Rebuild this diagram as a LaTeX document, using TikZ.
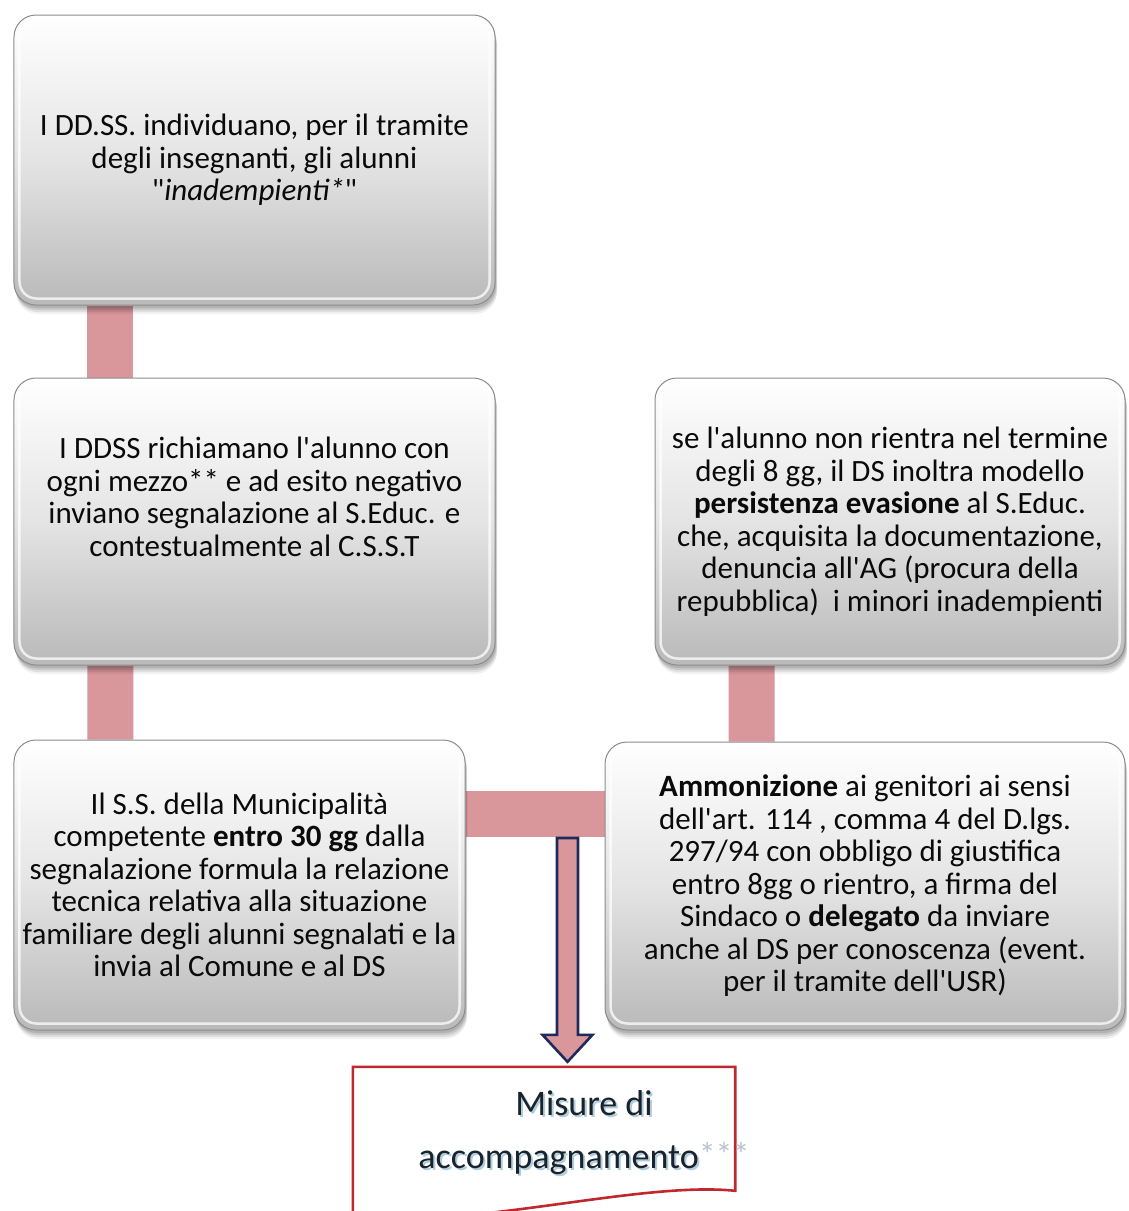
\documentclass[tikz,border=0pt]{standalone}
\usepackage{fontspec}
\setmainfont{Carlito}[Ligatures=TeXOff]
\usetikzlibrary{calc}
\definecolor{barpink}{RGB}{217,150,155}
\definecolor{navy}{RGB}{31,42,90}
\definecolor{docred}{RGB}{192,40,45}
\definecolor{boxbot}{RGB}{185,185,185}
\definecolor{boxmid}{RGB}{228,228,228}
\definecolor{boxrim}{RGB}{140,140,140}
\definecolor{txt}{RGB}{10,10,10}
\definecolor{doctxt}{RGB}{25,35,45}
\definecolor{glow}{RGB}{110,165,190}
\definecolor{starcol}{RGB}{185,195,210}
\pgfdeclarelayer{background}
\pgfsetlayers{background,main}
\tikzset{
  box/.style={rectangle, rounded corners=22bp, draw=boxrim, line width=1bp,
    top color=white, bottom color=boxbot, middle color=boxmid,
    text=txt, align=center, inner sep=0pt,
    font=\fontsize{31bp}{32.5bp}\selectfont,
    preaction={fill=black, opacity=0.10, transform canvas={xshift=1bp, yshift=-3bp}},
    preaction={fill=black, opacity=0.10, transform canvas={xshift=1.5bp, yshift=-5bp}},
    preaction={fill=black, opacity=0.08, transform canvas={xshift=2bp, yshift=-7bp}},
    preaction={fill=black, opacity=0.05, transform canvas={xshift=2bp, yshift=-9bp}}},
  bevel/.style={white, line width=2.5bp, opacity=0.75, rounded corners=17bp},
  bar/.style={barpink, line width=46bp},
  arrowshape/.style={draw=navy, line width=2.6bp, fill=barpink, line join=miter},
  docshape/.style={draw=docred, line width=2.6bp, fill=white},
  doctext/.style={align=center, font=\fontsize{36bp}{53bp}\selectfont, inner sep=0pt},
}
\newcommand{\flowstars}[1]{\raisebox{2bp}{\fontsize{34bp}{34bp}\selectfont\color{#1}***}}
\begin{document}
\begin{tikzpicture}[x=1bp,y=-1bp]
\useasboundingbox (0,0) rectangle (1129,1211);
\begin{pgfonlayer}{background}
\fill[white] (0,0) rectangle (1129,1211);
\end{pgfonlayer}

\node[box, minimum width=481bp, minimum height=290bp] (b1) at (254.5,160)
  {I DD.SS. individuano, per il tramite\\degli insegnanti, gli alunni\\"\textit{inadempienti*}"};
\node[box, minimum width=481bp, minimum height=287bp, text depth=50bp] (b2) at (254.5,521.5)
  {I DDSS richiamano l'alunno con\\ogni mezzo** e ad esito negativo\\inviano segnalazione al S.Educ. e\\contestualmente al C.S.S.T};
\node[box, minimum width=451bp, minimum height=290bp] (b3) at (239.5,885)
  {Il S.S. della Municipalità\\competente \textbf{entro 30 gg} dalla\\segnalazione formula la relazione\\tecnica relativa alla situazione\\familiare degli alunni segnalati e la\\invia al Comune e al DS};
\node[box, minimum width=470bp, minimum height=287bp] (b4) at (890,521.5)
  {se l'alunno non rientra nel termine\\degli 8 gg, il DS inoltra modello\\\textbf{persistenza evasione} al S.Educ.\\che, acquisita la documentazione,\\denuncia all'AG (procura della\\repubblica)~ i minori inadempienti};
\node[box, minimum width=520bp, minimum height=288bp] (b5) at (865,886)
  {\textbf{Ammonizione} ai genitori ai sensi\\dell'art. 114 , comma 4 del D.lgs.\\297/94 con obbligo di giustifica\\entro 8gg o rientro, a firma del\\Sindaco o \textbf{delegato} da inviare\\anche al DS per conoscenza (event.\\per il tramite dell'USR)};

\foreach \n in {b1,b2,b3,b4,b5}
  \draw[bevel] ([shift={(6,6)}]\n.north west) rectangle ([shift={(-6,-7)}]\n.south east);

\begin{pgfonlayer}{background}
\draw[bar] ($(b1.south west)+(97,0)$) -- ($(b2.north west)+(97,0)$);
\draw[bar] ($(b2.south west)+(97,0)$) -- ($(b3.north west)+(97,0)$);
\draw[bar] ($(b4.south west)+(97,0)$) -- ($(b5.north west)+(147,0)$);
\draw[bar] ($(b3.east)+(0,-71)$) -- ($(b5.west)+(0,-72)$);
\end{pgfonlayer}

% document shape
\node[minimum width=382bp, minimum height=144bp, inner sep=0pt] (doc) at (544,1139) {};
\draw[docshape] (doc.north west) -- (doc.north east) -- ++(0,124)
  .. controls +(-95,-10) and +(117,13) .. ($(doc.north west)+(0,150)$) -- cycle;
\node[doctext, text=glow, opacity=0.55] (misglow) at (586,1135)
  {Misure di\\accompagnamento\flowstars{white}};
\node[doctext, text=doctxt] (mis) at (584,1133)
  {Misure di\\accompagnamento\flowstars{starcol}};

% arrow
\coordinate (as) at ($(b3.east)+(102,-47)$);
\coordinate (at) at ($(as |- doc.north)+(0,-5)$);
\draw[arrowshape] ($(as)+(-10.5,0)$) -- ($(at)+(-10.5,-27)$) -- ($(at)+(-25,-27)$) -- (at)
  -- ($(at)+(25,-27)$) -- ($(at)+(10.5,-27)$) -- ($(as)+(10.5,0)$) -- cycle;
\end{tikzpicture}
\end{document}
